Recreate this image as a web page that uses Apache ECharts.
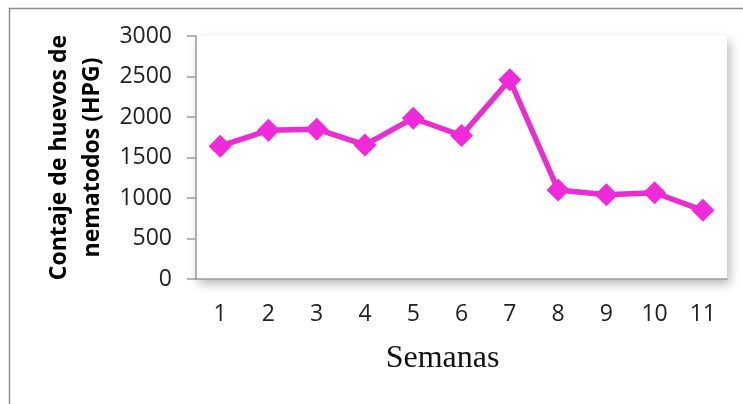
<!DOCTYPE html>
<html>
<head>
<meta charset="utf-8">
<script src="https://cdn.jsdelivr.net/npm/echarts@6/dist/echarts.min.js"></script>
<style>
  html, body { margin: 0; padding: 0; background: #fff; }
  #chart { width: 743px; height: 404px; }
</style>
</head>
<body>
<div id="chart"></div>
<script>
// semanas y conteo de huevos (HPG)
const semanas = ['1', '2', '3', '4', '5', '6', '7', '8', '9', '10', '11'];
const hpg = [1640, 1836, 1850, 1655, 1985, 1772, 2460, 1100, 1040, 1065, 848];
const yTicks = { min: 0, max: 3000, step: 500 };

const chart = echarts.init(document.getElementById('chart'));

const option = {
  backgroundColor: '#fff',
  animation: false,
  graphic: [
    {
      // marco exterior de la figura
      type: 'rect',
      shape: { x: 9.5, y: 8.5, width: 760, height: 420 },
      style: { fill: 'none', stroke: '#8c8c8c', lineWidth: 1.5 },
      z: 0,
    },
  ],
  grid: {
    left: 196,
    right: 16,
    top: 36,
    bottom: 125,
    show: true,
    backgroundColor: '#fff',
    borderWidth: 0,
    shadowColor: 'rgba(0,0,0,0.28)',
    shadowBlur: 10,
    shadowOffsetX: 3,
    shadowOffsetY: 5,
  },
  xAxis: {
    type: 'category',
    data: semanas,
    boundaryGap: true,
    name: 'Semanas',
    nameLocation: 'middle',
    nameGap: 64,
    nameTextStyle: {
      fontFamily: 'Liberation Serif',
      fontSize: 32,
      color: '#111',
      padding: [0, 38, 0, 0],
    },
    axisLine: { show: true, lineStyle: { color: '#9a9a9a', width: 1.5 } },
    axisTick: { show: false },
    axisLabel: {
      margin: 24,
      fontFamily: 'Open Sans',
      fontSize: 23,
      color: '#222',
    },
  },
  yAxis: {
    type: 'value',
    min: yTicks.min,
    max: yTicks.max,
    interval: yTicks.step,
    name: 'Contaje de huevos de\nnematodos (HPG)',
    nameLocation: 'middle',
    nameRotate: 90,
    nameGap: 83,
    nameTextStyle: {
      fontFamily: 'Open Sans',
      fontWeight: 'bold',
      fontSize: 23,
      lineHeight: 33,
      color: '#000',
    },
    axisLine: { show: true, lineStyle: { color: '#9a9a9a', width: 1.5 } },
    axisTick: { show: true, inside: false, length: 9, lineStyle: { color: '#9a9a9a', width: 1.5 } },
    splitLine: { show: false },
    axisLabel: {
      margin: 24,
      fontFamily: 'Open Sans',
      fontSize: 23,
      color: '#222',
      formatter: (v) => String(v),
    },
  },
  series: [
    {
      type: 'line',
      data: hpg,
      symbol: 'diamond',
      symbolSize: 23,
      lineStyle: { color: '#E92ED0', width: 5.5 },
      itemStyle: { color: '#F02ADB' },
    },
  ],
};

chart.setOption(option);
</script>
</body>
</html>
